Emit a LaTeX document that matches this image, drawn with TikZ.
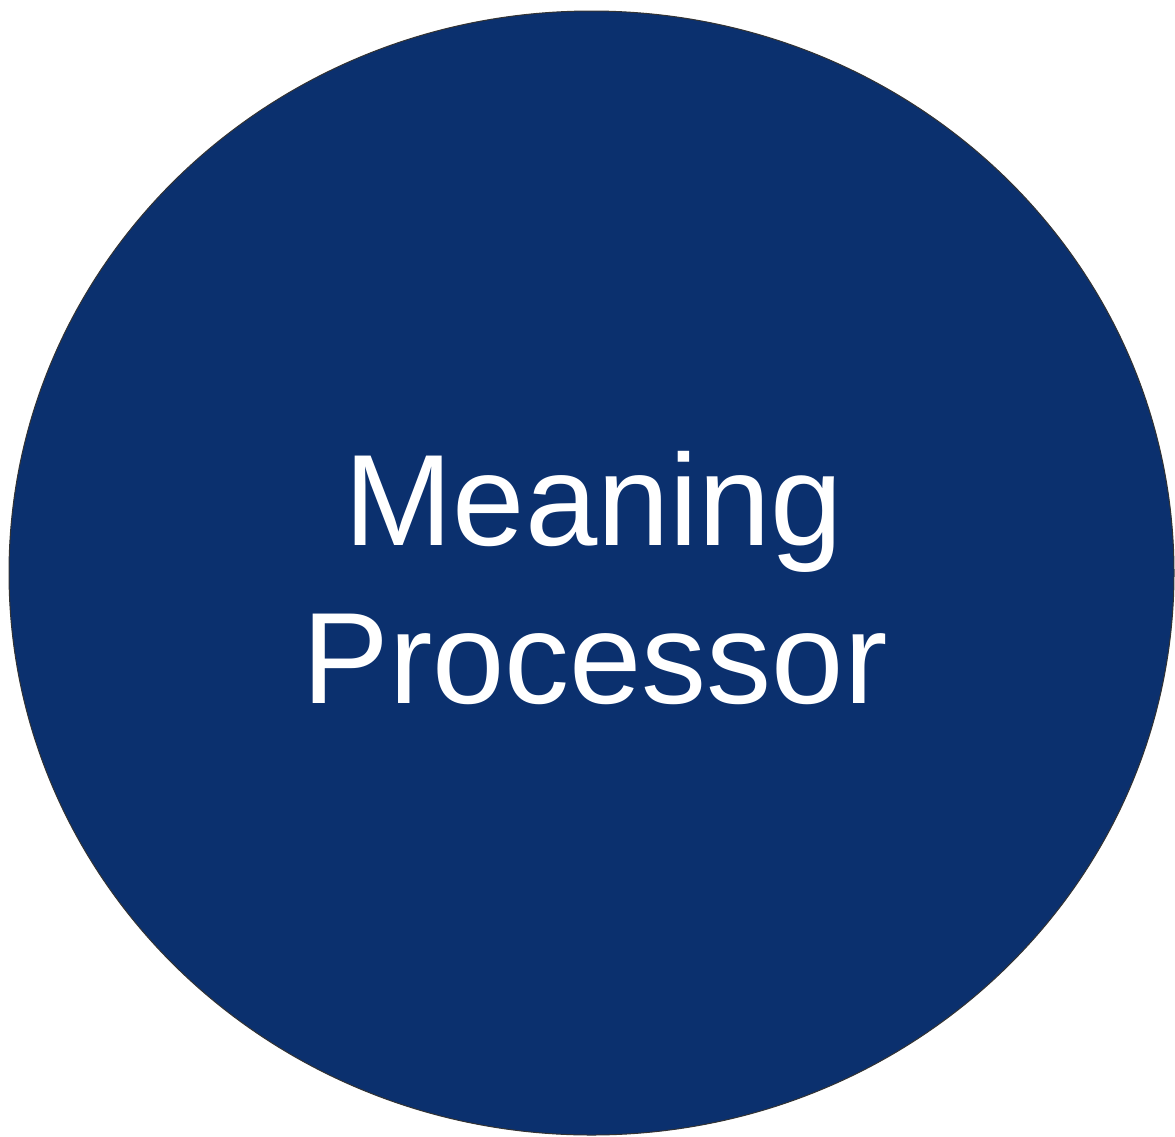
\documentclass[tikz,border=0pt]{standalone}
\usepackage{fontspec}
\setmainfont{Liberation Sans}
\definecolor{navy}{HTML}{0B306E}
\tikzset{
  disc/.style={ellipse, draw=black!80, line width=1pt, fill=navy, minimum width=1165pt, minimum height=1124pt, inner sep=0pt},
  lbl/.style={text=white, font=\fontsize{130}{158}\selectfont, align=center, inner sep=0pt}
}
\usetikzlibrary{shapes.geometric}
\begin{document}
\begin{tikzpicture}[x=1pt,y=1pt]
\useasboundingbox (0,0) rectangle (1175,-1136);
\node[disc] (c) at (591.5,-573) {};
\node[lbl, anchor=base] (t1) at (594,-545) {Meaning};
\node[lbl, anchor=base] (t2) at (595,-703) {Processor};
\end{tikzpicture}
\end{document}
